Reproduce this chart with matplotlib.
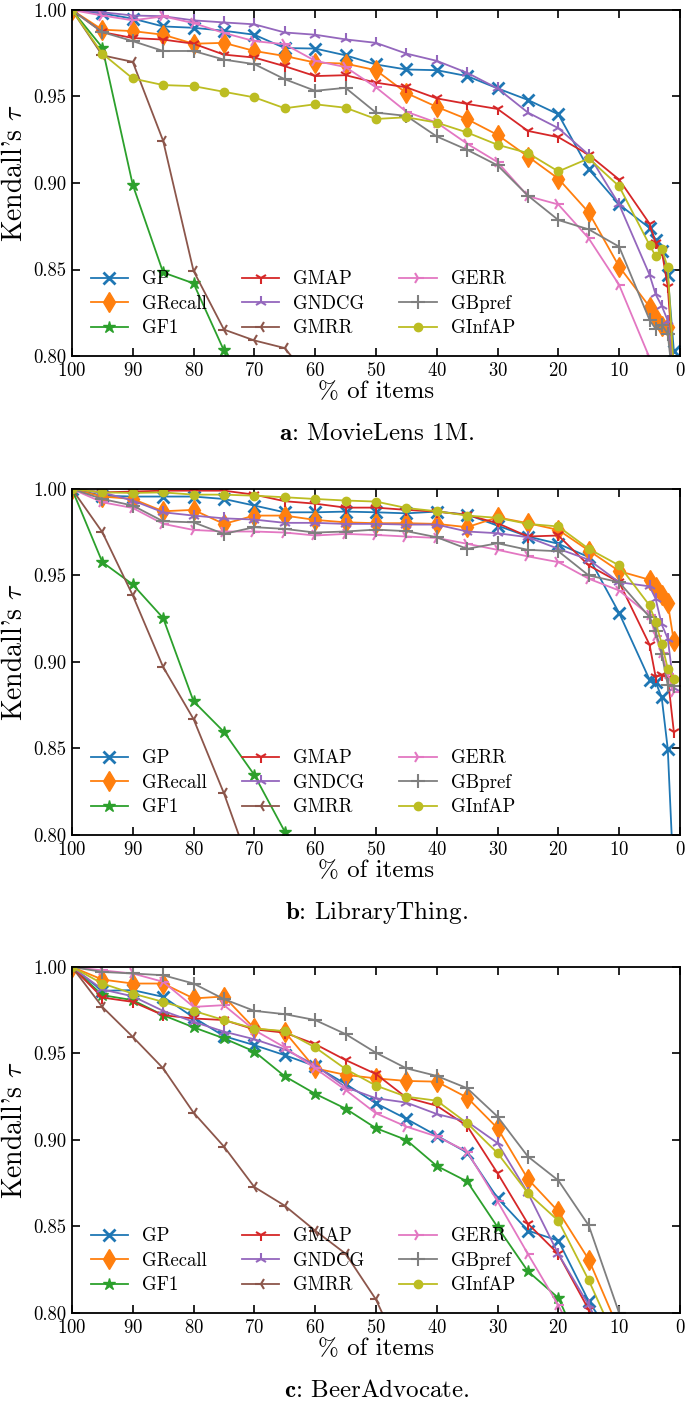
import numpy as np
import matplotlib
matplotlib.use("Agg")
import matplotlib.pyplot as plt

plt.rcParams['font.family'] = 'serif'
plt.rcParams['font.serif'] = ['cmr10']
plt.rcParams['mathtext.fontset'] = 'cm'
plt.rcParams['axes.formatter.use_mathtext'] = True
plt.rcParams['axes.unicode_minus'] = False

# x positions: % of items kept
pct = [100, 95, 90, 85, 80, 75, 70, 65, 60, 55, 50, 45, 40, 35, 30, 25, 20, 15, 10, 5, 4, 3, 2, 1]

metrics = ['GP', 'GRecall', 'GF1', 'GMAP', 'GNDCG', 'GMRR', 'GERR', 'GBpref', 'GInfAP']

# MovieLens 1M
ml_gp = [1.0, 0.998, 0.995, 0.9905, 0.9897, 0.988, 0.9857, 0.978, 0.9777, 0.9738, 0.9685, 0.9656, 0.9652, 0.9618, 0.9547, 0.948, 0.9397, 0.908, 0.8876, 0.874, 0.8669, 0.8607, 0.8468, 0.803]
ml_grecall = [1.0, 0.9886, 0.9878, 0.9857, 0.9805, 0.981, 0.9763, 0.9734, 0.9696, 0.969, 0.9652, 0.952, 0.944, 0.9369, 0.9278, 0.9153, 0.9025, 0.883, 0.8517, 0.8285, 0.8218, 0.8176, 0.8165, 0.79]
ml_gf1 = [1.0, 0.9783, 0.899, 0.8483, 0.842, 0.8032, 0.75]
ml_gmap = [1.0, 0.9872, 0.9838, 0.9829, 0.9805, 0.9742, 0.9725, 0.9675, 0.9618, 0.9623, 0.958, 0.9553, 0.9489, 0.9457, 0.9428, 0.9301, 0.9265, 0.9163, 0.902, 0.8765, 0.8655, 0.861, 0.84, 0.79]
ml_gndcg = [1.0, 0.9987, 0.9968, 0.9964, 0.994, 0.9928, 0.9917, 0.987, 0.9857, 0.983, 0.981, 0.9748, 0.9706, 0.9637, 0.9547, 0.9407, 0.9317, 0.9163, 0.8876, 0.847, 0.8357, 0.829, 0.8205, 0.79]
ml_gmrr = [1.0, 0.9738, 0.97, 0.9244, 0.8492, 0.8153, 0.809, 0.8046, 0.783]
ml_gerr = [1.0, 0.9968, 0.994, 0.9963, 0.9924, 0.9867, 0.982, 0.9802, 0.9706, 0.967, 0.9553, 0.9412, 0.9349, 0.9227, 0.9121, 0.8924, 0.8876, 0.868, 0.8411, 0.799, 0.785]
ml_gbpref = [1.0, 0.9872, 0.982, 0.9763, 0.9763, 0.9713, 0.9687, 0.96, 0.9533, 0.955, 0.9407, 0.9388, 0.9269, 0.9192, 0.9102, 0.8927, 0.8786, 0.8732, 0.8632, 0.8209, 0.8157, 0.8182, 0.8128, 0.78]
ml_ginfap = [1.0, 0.9748, 0.9604, 0.9566, 0.956, 0.9527, 0.9495, 0.9432, 0.9455, 0.9435, 0.937, 0.938, 0.9349, 0.9292, 0.9221, 0.9173, 0.9067, 0.9142, 0.8981, 0.8642, 0.8578, 0.8621, 0.8512, 0.79]

# LibraryThing
lt_gp = [1.0, 0.9961, 0.9956, 0.9956, 0.9956, 0.9942, 0.9904, 0.9865, 0.9865, 0.9869, 0.9865, 0.9859, 0.9869, 0.9852, 0.9788, 0.9725, 0.9683, 0.9606, 0.9283, 0.8898, 0.8885, 0.8795, 0.8497, 0.772]
lt_grecall = [1.0, 0.9956, 0.9942, 0.9871, 0.9879, 0.9798, 0.9846, 0.9846, 0.9821, 0.9807, 0.9802, 0.9802, 0.9798, 0.9779, 0.9836, 0.9802, 0.9763, 0.9644, 0.9525, 0.9475, 0.9433, 0.9385, 0.934, 0.9119]
lt_gf1 = [1.0, 0.9577, 0.9448, 0.9254, 0.8773, 0.8596, 0.8347, 0.802, 0.76]
lt_gmap = [1.0, 0.998, 0.9985, 0.999, 0.999, 0.999, 0.9967, 0.9929, 0.9915, 0.9892, 0.9892, 0.9879, 0.9869, 0.985, 0.9802, 0.9725, 0.9731, 0.9558, 0.9461, 0.91, 0.8915, 0.8923, 0.891, 0.8596]
lt_gndcg = [1.0, 0.998, 0.9933, 0.9865, 0.9846, 0.983, 0.9823, 0.9804, 0.9804, 0.9798, 0.9798, 0.9794, 0.9794, 0.9754, 0.9744, 0.9721, 0.9654, 0.9591, 0.9461, 0.9437, 0.9366, 0.9217, 0.9135, 0.885]
lt_gmrr = [1.0, 0.975, 0.9385, 0.8971, 0.867, 0.8241, 0.775]
lt_gerr = [1.0, 0.9923, 0.989, 0.9798, 0.9763, 0.9754, 0.9754, 0.9748, 0.9731, 0.974, 0.9734, 0.9725, 0.9717, 0.9683, 0.9648, 0.961, 0.9577, 0.9481, 0.9413, 0.9269, 0.915, 0.905, 0.893, 0.8827]
lt_gbpref = [1.0, 0.9942, 0.9904, 0.9813, 0.9807, 0.974, 0.9779, 0.9769, 0.9748, 0.9754, 0.9765, 0.9756, 0.9721, 0.9654, 0.9686, 0.9648, 0.964, 0.95, 0.9461, 0.926, 0.918, 0.9048, 0.8866, 0.886]
lt_ginfap = [1.0, 0.998, 0.9977, 0.998, 0.9967, 0.9967, 0.9961, 0.9952, 0.9942, 0.9933, 0.9927, 0.989, 0.9871, 0.9846, 0.9833, 0.9798, 0.9783, 0.9654, 0.9558, 0.9327, 0.9231, 0.9106, 0.8962, 0.8904]

# BeerAdvocate
ba_gp = [1.0, 0.9862, 0.9866, 0.9827, 0.9708, 0.96, 0.9548, 0.949, 0.9427, 0.9324, 0.9212, 0.9122, 0.9025, 0.8927, 0.8664, 0.8476, 0.8418, 0.8068, 0.78]
ba_grecall = [1.0, 0.9927, 0.9904, 0.9904, 0.9818, 0.9829, 0.9645, 0.9625, 0.9414, 0.9376, 0.9356, 0.9341, 0.9337, 0.9245, 0.9068, 0.8774, 0.8587, 0.8309, 0.79]
ba_gf1 = [1.0, 0.9837, 0.9808, 0.9721, 0.9651, 0.9587, 0.9511, 0.9368, 0.9267, 0.9181, 0.9068, 0.9, 0.885, 0.876, 0.8497, 0.8241, 0.8087, 0.77]
ba_gmap = [1.0, 0.9823, 0.9798, 0.9721, 0.9702, 0.9693, 0.9639, 0.962, 0.9554, 0.9462, 0.9381, 0.9245, 0.9198, 0.9081, 0.8808, 0.8516, 0.8341, 0.8019, 0.77]
ba_gndcg = [1.0, 0.987, 0.983, 0.9746, 0.9683, 0.9626, 0.9582, 0.9524, 0.9433, 0.9305, 0.9241, 0.9216, 0.915, 0.9106, 0.8982, 0.8693, 0.8341, 0.8045, 0.77]
ba_gmrr = [1.0, 0.9769, 0.9596, 0.9414, 0.9158, 0.8962, 0.8728, 0.862, 0.8476, 0.8343, 0.8078, 0.77]
ba_gerr = [1.0, 0.998, 0.9962, 0.9914, 0.9769, 0.9779, 0.9635, 0.9535, 0.9414, 0.9289, 0.9154, 0.9077, 0.902, 0.8933, 0.8645, 0.8341, 0.8045, 0.77]
ba_gbpref = [1.0, 0.9971, 0.9962, 0.9952, 0.9904, 0.9814, 0.9746, 0.9727, 0.9693, 0.9612, 0.9504, 0.9414, 0.937, 0.9299, 0.9135, 0.8904, 0.8766, 0.8506, 0.80, 0.77]
ba_ginfap = [1.0, 0.9904, 0.9846, 0.9798, 0.9746, 0.9693, 0.9644, 0.9629, 0.9535, 0.941, 0.9314, 0.925, 0.9227, 0.9097, 0.8924, 0.8693, 0.8533, 0.8189, 0.78]

datasets = [
    ('MovieLens 1M.', 'a', [ml_gp, ml_grecall, ml_gf1, ml_gmap, ml_gndcg, ml_gmrr, ml_gerr, ml_gbpref, ml_ginfap]),
    ('LibraryThing.', 'b', [lt_gp, lt_grecall, lt_gf1, lt_gmap, lt_gndcg, lt_gmrr, lt_gerr, lt_gbpref, lt_ginfap]),
    ('BeerAdvocate.', 'c', [ba_gp, ba_grecall, ba_gf1, ba_gmap, ba_gndcg, ba_gmrr, ba_gerr, ba_gbpref, ba_ginfap]),
]

colors = ['C0', 'C1', 'C2', 'C3', 'C4', 'C5', 'C6', 'C7', 'C8']
markers = ['x', 'd', '*', '1', '2', '3', '4', '+', 'o']
msizes = [9, 10, 9, 9, 9, 9, 9, 10, 6]
mews = [2.0, 1.0, 1.0, 1.5, 1.5, 1.5, 1.5, 1.5, 1.0]

fig = plt.figure(figsize=(6.85, 14.05), dpi=100)

bottoms = [0.7466, 0.4057, 0.0655]
for (name, tag, series), b in zip(datasets, bottoms):
    ax = fig.add_axes([0.105, b, 0.8876, 0.2463])
    for vals, lab, c, m, ms, mew in zip(series, metrics, colors, markers, msizes, mews):
        ax.plot(pct[:len(vals)], vals, color=c, marker=m, markersize=ms,
                markeredgewidth=mew, linewidth=1.3, label=lab)
    ax.set_xlim(100, 0)
    ax.set_ylim(0.80, 1.00)
    ax.set_xticks(np.arange(100, -1, -10))
    ax.set_yticks([0.80, 0.85, 0.90, 0.95, 1.00])
    ax.yaxis.set_major_formatter(matplotlib.ticker.FormatStrFormatter('%.2f'))
    ax.tick_params(direction='in', top=True, right=True, length=6, width=1.2,
                   labelsize=13.5, pad=4)
    for sp in ax.spines.values():
        sp.set_linewidth(1.3)
    ax.set_xlabel('% of items', fontsize=18, labelpad=1)
    ax.set_ylabel(r"Kendall's $\tau$", fontsize=20)
    ax.yaxis.set_label_coords(-0.072, 0.53)
    ax.legend(ncol=3, frameon=False, loc='lower left', bbox_to_anchor=(0.0, 0.0),
              fontsize=13.5, handlelength=2.0, handletextpad=0.75, columnspacing=1.85,
              labelspacing=0.35, borderaxespad=0.6)
    fig.text(0.55, b - 0.0555, r'$\mathbf{%s}$: %s' % (tag, name),
             ha='center', va='center', fontsize=18)

fig.savefig('out.png', dpi=100)
